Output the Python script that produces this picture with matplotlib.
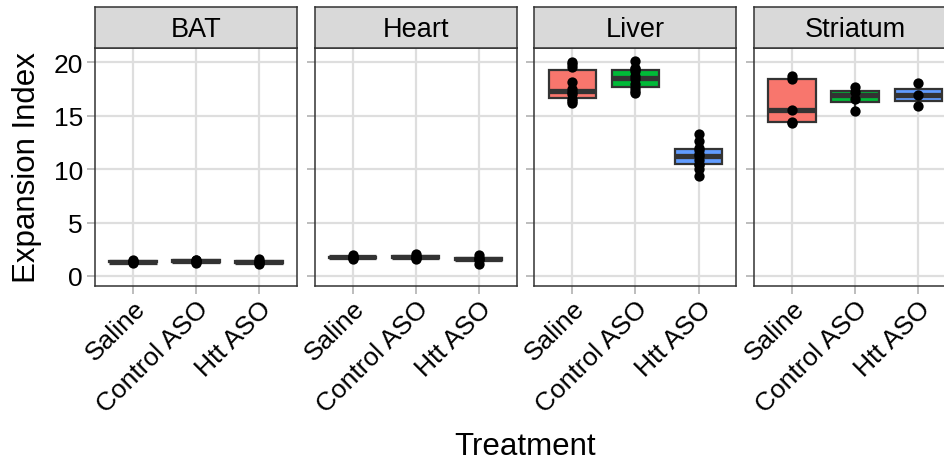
import matplotlib
matplotlib.use("Agg")
import matplotlib.pyplot as plt
import numpy as np

plt.rcParams['font.family'] = ['Liberation Sans', 'DejaVu Sans']

tissues = ["BAT", "Heart", "Liver", "Striatum"]
treatments = ["Saline", "Control ASO", "Htt ASO"]
colors = ["#F8766D", "#00BA38", "#619CFF"]

bat_saline = [1.20, 1.30, 1.35, 1.40, 1.45]
bat_control = [1.25, 1.35, 1.40, 1.45, 1.50]
bat_htt = [1.08, 1.20, 1.30, 1.40, 1.57]
heart_saline = [1.60, 1.72, 1.78, 1.82, 1.95]
heart_control = [1.55, 1.72, 1.80, 1.86, 2.10]
heart_htt = [1.15, 1.45, 1.62, 1.72, 1.95]
liver_saline = [16.2, 16.4, 16.6, 17.0, 17.2, 17.5, 18.2, 19.6, 19.8, 20.0]
liver_control = [17.1, 17.3, 17.6, 18.0, 18.4, 18.7, 19.2, 19.35, 19.5, 20.1]
liver_htt = [9.4, 10.0, 10.4, 10.5, 10.9, 11.2, 11.4, 11.8, 12.0, 12.6, 13.3]
striatum_saline = [14.3, 14.4, 15.5, 18.4, 18.7]
striatum_control = [15.4, 16.6, 17.2, 17.7]
striatum_htt = [15.95, 16.9, 18.1]

data = {
    "BAT": [bat_saline, bat_control, bat_htt],
    "Heart": [heart_saline, heart_control, heart_htt],
    "Liver": [liver_saline, liver_control, liver_htt],
    "Striatum": [striatum_saline, striatum_control, striatum_htt],
}

W, H = 945, 464
fig = plt.figure(figsize=(W / 100, H / 100), dpi=100)

def frac_rect(x0, y0, x1, y1):
    return [x0 / W, 1 - y1 / H, (x1 - x0) / W, (y1 - y0) / H]

panel_top, panel_bot = 49, 287
strip_top = 8
pw, step = 202, 219.7
edge = "#333333"
grid_c = "#DEDEDE"
tick_c = "#BDBDBD"
tick_fs = 19

for i, t in enumerate(tissues):
    x0 = 95 + i * step
    ax = fig.add_axes(frac_rect(x0, panel_top, x0 + pw, panel_bot))
    vals = data[t]
    bp = ax.boxplot(vals, positions=[1, 2, 3], widths=0.75, patch_artist=True,
                    showfliers=False, showcaps=False, whis=1.5, manage_ticks=False,
                    boxprops=dict(edgecolor=edge, linewidth=1.6),
                    whiskerprops=dict(color=edge, linewidth=1.6),
                    medianprops=dict(color=edge, linewidth=3.8, solid_capstyle='butt'),
                    zorder=2)
    for patch, c in zip(bp['boxes'], colors):
        patch.set_facecolor(c)
    for j, v in enumerate(vals):
        ax.scatter(np.full(len(v), j + 1), v, s=55, color='black', zorder=4,
                   linewidths=0)
    ax.set_xlim(0.4, 3.6)
    ax.set_ylim(-0.94, 21.34)
    ax.set_yticks([0, 5, 10, 15, 20])
    ax.set_xticks([1, 2, 3])
    ax.grid(True, color=grid_c, linewidth=1.6, zorder=0)
    ax.set_axisbelow(True)
    for s in ax.spines.values():
        s.set_color(edge)
        s.set_linewidth(1.1)
    ax.tick_params(axis='both', color=tick_c, length=5.8, width=1.4,
                   labelsize=tick_fs, labelcolor='black', pad=3)
    ax.tick_params(axis='x', pad=1.5)
    if i == 0:
        ax.set_yticklabels(["0", "5", "10", "15", "20"])
        ax.set_ylabel("Expansion Index", fontsize=22.5, labelpad=8)
    else:
        ax.tick_params(axis='y', labelleft=False)
    ax.set_xticklabels(treatments, rotation=45, ha='right', va='top',
                       rotation_mode='anchor', fontsize=tick_fs)
    # strip
    sax = fig.add_axes(frac_rect(x0, strip_top, x0 + pw, panel_top))
    sax.set_facecolor("#D9D9D9")
    sax.set_xticks([])
    sax.set_yticks([])
    for s in sax.spines.values():
        s.set_color(edge)
        s.set_linewidth(1.1)
    sax.text(0.5, 0.47, t, ha='center', va='center', fontsize=19.5,
             transform=sax.transAxes)

fig.text(525 / W, 1 - 447 / H, "Treatment", ha='center', va='center', fontsize=22.5)

fig.savefig("out.png", dpi=100)
